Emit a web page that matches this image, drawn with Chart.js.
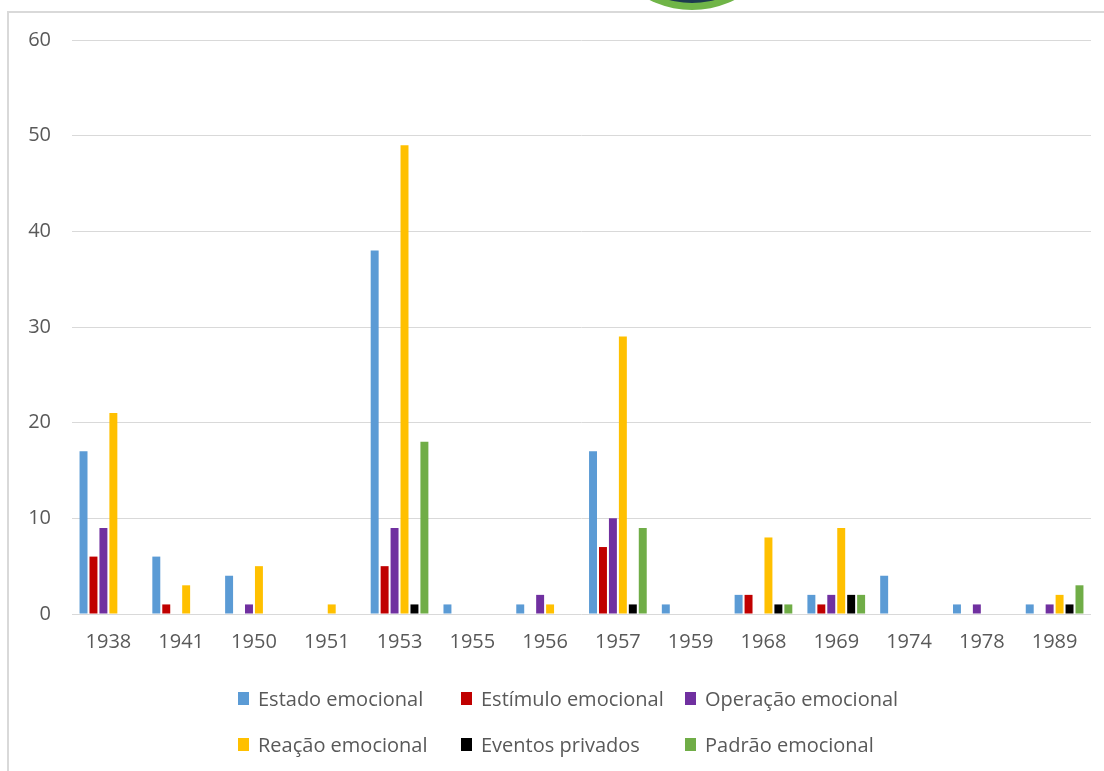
<!DOCTYPE html>
<html lang="pt">
<head>
<meta charset="utf-8">
<title>Categorias emocionais por ano</title>
<script src="https://cdn.jsdelivr.net/npm/chart.js@4/dist/chart.umd.min.js"></script>
<style>
  html, body { margin: 0; padding: 0; background: #fff; overflow: hidden; }
  body { width: 1104px; height: 771px; position: relative; font-family: "Open Sans", sans-serif; }
  #moldura { position: absolute; left: 7px; top: 11px; width: 1300px; height: 900px; border: 2px solid #d9d9d9; }
  #logoVerde { position: absolute; left: 597px; top: -180px; width: 190px; height: 190px; border-radius: 50%; background: #70b548; }
  #logoAzul { position: absolute; left: 604px; top: -173px; width: 176px; height: 176px; border-radius: 50%; background: #1d3b4f; }
  #grafico { position: absolute; left: 0; top: 0; }
  .item { position: absolute; display: flex; align-items: center; height: 24px; color: #595959; font-size: 20px; white-space: nowrap; }
  .item span.caixa { display: inline-block; width: 11px; height: 13px; margin-right: 9px; }
</style>
</head>
<body>
<div id="moldura"></div>
<div id="logoVerde"></div>
<div id="logoAzul"></div>
<canvas id="grafico" width="1104" height="771"></canvas>
<div id="legenda"></div>

<script>
// anos (categorias)
const anos = ['1938', '1941', '1950', '1951', '1953', '1955', '1956', '1957', '1959', '1968', '1969', '1974', '1978', '1989'];

// séries
const estado    = [17, 6, 4, 0, 38, 1, 1, 17, 1, 2, 2, 4, 1, 1];
const estimulo  = [6, 1, 0, 0, 5, 0, 0, 7, 0, 2, 1, 0, 0, 0];
const operacao  = [9, 0, 1, 0, 9, 0, 2, 10, 0, 0, 2, 0, 1, 1];
const reacao    = [21, 3, 5, 1, 49, 0, 1, 29, 0, 8, 9, 0, 0, 2];
const eventos   = [0, 0, 0, 0, 1, 0, 0, 1, 0, 1, 2, 0, 0, 1];
const padrao    = [0, 0, 0, 0, 18, 0, 0, 9, 0, 1, 2, 0, 0, 3];

const nomes = ['Estado emocional', 'Estímulo emocional', 'Operação emocional',
               'Reação emocional', 'Eventos privados', 'Padrão emocional'];
const cores = ['#5b9bd5', '#c00000', '#7030a0', '#ffc000', '#000000', '#70ad47'];
const yTicks = [0, 10, 20, 30, 40, 50, 60];

const series = [estado, estimulo, operacao, reacao, eventos, padrao];

const ctx = document.getElementById('grafico').getContext('2d');
const grafico = new Chart(ctx, {
  type: 'bar',
  data: {
    labels: anos,
    datasets: series.map((s, i) => ({
      label: nomes[i],
      data: s,
      backgroundColor: cores[i],
      borderWidth: 0,
      categoryPercentage: 0.82,
      barPercentage: 0.8
    }))
  },
  options: {
    responsive: false,
    animation: false,
    layout: { padding: { top: 40, right: 13, left: 0, bottom: 0 } },
    plugins: {
      legend: { display: false },
      tooltip: { enabled: false }
    },
    scales: {
      x: {
        grid: { display: false },
        border: { display: false },
        ticks: { color: '#595959', font: { family: 'Open Sans', size: 20 }, padding: 8, maxRotation: 0 },
        afterFit: (axe) => { axe.height = 157; }
      },
      y: {
        min: 0,
        max: 60,
        afterBuildTicks: (axe) => { axe.ticks = yTicks.map(v => ({ value: v })); },
        grid: { color: '#d9d9d9', lineWidth: 1, drawTicks: false },
        border: { display: false },
        ticks: { color: '#595959', font: { family: 'Open Sans', size: 20 }, padding: 21 },
        afterFit: (axe) => { axe.width = 72; }
      }
    }
  }
});

// legenda em HTML, 3 colunas alinhadas
const colX = [238, 461, 685];
const rowY = [686, 732];
const legenda = document.getElementById('legenda');
nomes.forEach((nome, i) => {
  const d = document.createElement('div');
  d.className = 'item';
  d.style.left = colX[i % 3] + 'px';
  d.style.top = rowY[Math.floor(i / 3)] + 'px';
  d.innerHTML = '<span class="caixa" style="background:' + cores[i] + '"></span>' + nome;
  legenda.appendChild(d);
});
</script>
</body>
</html>
